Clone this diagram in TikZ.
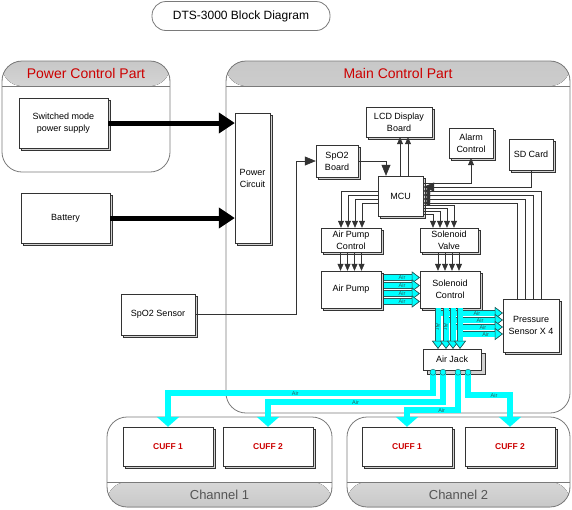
\documentclass[tikz,border=0pt]{standalone}
\usepackage{fontspec}
\setmainfont{Liberation Sans}
\usepackage{xcolor}
\usepackage{tikz}
\usetikzlibrary{arrows.meta, positioning, calc, shadows}
\definecolor{dtsred}{HTML}{CC0000}
\definecolor{dtsgray}{HTML}{555555}
\definecolor{dtsline}{HTML}{333333}
\definecolor{partline}{HTML}{7A7A7A}
\definecolor{bandgray}{HTML}{C8C8C8}
\definecolor{aircyan}{HTML}{00FFFF}
\definecolor{airedge}{HTML}{2A5A5A}
\tikzset{
  ttl/.style={rectangle, rounded corners=14pt, draw=partline, line width=0.8pt,
    minimum width=178pt, minimum height=29pt, font=\fontsize{12}{14}\selectfont},
  part/.style={rectangle, rounded corners=20pt, draw=partline, line width=0.8pt,
    path picture={
      \fill[top color=bandgray, bottom color=white]
        (path picture bounding box.north west) rectangle
        ([yshift=-25pt]path picture bounding box.north east);
      \draw[partline, line width=0.8pt]
        ([yshift=-25pt]path picture bounding box.north west) --
        ([yshift=-25pt]path picture bounding box.north east);}},
  chan/.style={rectangle, rounded corners=20pt, draw=partline, line width=0.8pt,
    path picture={
      \fill[top color=white, bottom color=bandgray]
        (path picture bounding box.south west) rectangle
        ([yshift=25pt]path picture bounding box.south east);
      \draw[partline, line width=0.8pt]
        ([yshift=25pt]path picture bounding box.south west) --
        ([yshift=25pt]path picture bounding box.south east);}},
  parthead/.style={text=dtsred, font=\fontsize{14}{16}\selectfont},
  chanfoot/.style={text=dtsgray, font=\fontsize{13}{15}\selectfont},
  blk/.style={rectangle, draw=dtsline, fill=white, align=center, inner sep=0pt,
    font=\fontsize{9}{12}\selectfont,
    copy shadow={shadow xshift=2.5pt, shadow yshift=-2.5pt, fill=gray!35, draw=dtsline}},
  cuff/.style={blk, text=dtsred, font=\fontsize{8.5}{12}\selectfont\bfseries},
  jack/.style={rectangle, draw=dtsline, fill=white, align=center, inner sep=0pt,
    font=\fontsize{9}{12}\selectfont,
    copy shadow={shadow xshift=4pt, shadow yshift=-4pt, fill=gray!35, draw=dtsline}},
  sig/.style={draw=dtsline, line width=0.6pt, -{Triangle[width=6pt,length=7pt]}},
  bigsig/.style={draw=dtsline, line width=0.6pt, -{Triangle[width=9pt,length=11pt]}},
  pwrarrow/.style={line width=5pt, -{Triangle[width=20pt,length=16pt]}},
  air/.style={draw=aircyan, line width=5pt,
    preaction={draw=airedge, line width=6.4pt},
    -{Triangle[width=12pt,length=8pt,color=airedge,fill=aircyan,line width=0.6pt]}},
  airline/.style={draw=aircyan, line width=6pt, -{Triangle[width=22pt,length=10pt]}},
  airlbl/.style={font=\fontsize{5.5}{5.5}\selectfont, text=airedge, inner sep=0pt},
}
\begin{document}
\begin{tikzpicture}[x=1pt, y=-1pt]
  \useasboundingbox (0,0) rectangle (572,509);
  \node[ttl] (title) at (241,16) {DTS-3000 Block Diagram};

  \node[part, minimum width=168pt, minimum height=111pt] (pwrpart) at (86,116.5) {};
  \node[parthead] (pwrhead) at ([yshift=-12.5pt]pwrpart.north) {Power Control Part};
  \node[part, minimum width=344pt, minimum height=352pt] (mainpart) at (398,237) {};
  \node[parthead] (mainhead) at ([yshift=-12.5pt]mainpart.north) {Main Control Part};
  \node[chan, minimum width=225pt, minimum height=90pt] (ch1) at (219.5,462) {};
  \node[chanfoot] (ch1foot) at ([yshift=12.5pt]ch1.south) {Channel 1};
  \node[chan, minimum width=223pt, minimum height=90pt] (ch2) at (458.5,462) {};
  \node[chanfoot] (ch2foot) at ([yshift=12.5pt]ch2.south) {Channel 2};

  \node[blk, minimum width=89pt, minimum height=50pt] (smps) at (63.5,123)
    {Switched mode\\power supply};
  \node[blk, minimum width=89pt, minimum height=50pt] (battery) at (65.5,218) {Battery};
  \node[blk, minimum width=35pt, minimum height=130pt] (pcirc) at (252.5,178) {Power\\Circuit};
  \node[blk, minimum width=74pt, minimum height=41pt] (spsensor) at (158,314.5) {SpO2 Sensor};
  \node[blk, minimum width=42pt, minimum height=32pt] (spboard) at (337,161) {SpO2\\Board};
  \node[blk, minimum width=66pt, minimum height=30pt] (lcd) at (399,122) {LCD Display\\Board};
  \node[blk, minimum width=44pt, minimum height=30pt] (alarm) at (471,143) {Alarm\\Control};
  \node[blk, minimum width=44pt, minimum height=31pt] (sdcard) at (531,154.5) {SD Card};
  \node[blk, minimum width=45pt, minimum height=40pt] (mcu) at (400.5,196) {MCU};
  \node[blk, minimum width=60pt, minimum height=24pt] (apctrl) at (351,240) {Air Pump\\Control};
  \node[blk, minimum width=58pt, minimum height=24pt] (svalve) at (449,240) {Solenoid\\Valve};
  \node[blk, minimum width=60pt, minimum height=37pt] (apump) at (351,289.5) {Air Pump};
  \node[blk, minimum width=60pt, minimum height=37pt] (sctrl) at (450,289.5) {Solenoid\\Control};
  \node[blk, minimum width=56pt, minimum height=53pt] (psens) at (531,325.5) {Pressure\\Sensor X 4};
  \node[jack, minimum width=58pt, minimum height=21pt] (ajack) at (452,359.5) {Air Jack};
  \node[cuff, minimum width=90pt, minimum height=39pt] (c1a) at (168,446.5) {CUFF 1};
  \node[cuff, minimum width=90pt, minimum height=39pt] (c1b) at (268,446.5) {CUFF 2};
  \node[cuff, minimum width=90pt, minimum height=39pt] (c2a) at (407,446.5) {CUFF 1};
  \node[cuff, minimum width=90pt, minimum height=39pt] (c2b) at (510,446.5) {CUFF 2};

  \draw[pwrarrow] (smps.east) -- (smps -| pcirc.west);
  \draw[pwrarrow] (battery.east) -- (battery -| pcirc.west);
  \draw[bigsig] (spsensor.east) -| ($(spboard.west)+(-20,0)$) -- (spboard.west);
  \draw[bigsig] (spboard.east) -| ($(mcu.north)+(-14.5,0)$);
  \draw[sig] ($(mcu.north)+(-0.5,0)$) -- ($(mcu.north |- lcd.south)+(-0.5,0)$);
  \draw[sig] ($(mcu.north)+(7.5,0)$) -- ($(mcu.north |- lcd.south)+(7.5,0)$);
  \draw[sig] ($(mcu.east)+(0,-13)$) -| (alarm.south);
  \draw[bigsig] (sdcard.south) |- ($(mcu.east)+(0,-9)$);
  \draw[sig] ($(psens.north)+(10,0)$) |- ($(mcu.east)+(0,-5)$);
  \draw[sig] ($(psens.north)+(2,0)$) |- ($(mcu.east)+(0,-1)$);
  \draw[sig] ($(psens.north)+(-6,0)$) |- ($(mcu.east)+(0,3)$);
  \draw[sig] ($(psens.north)+(-14,0)$) |- ($(mcu.east)+(0,7)$);

  \draw[sig] ($(mcu.west)+(0,-5)$) -| ($(apctrl.north)+(-10,0)$);
  \draw[sig] ($(mcu.west)+(0,-1)$) -| ($(apctrl.north)+(-3,0)$);
  \draw[sig] ($(mcu.west)+(0,3)$) -| ($(apctrl.north)+(4,0)$);
  \draw[sig] ($(mcu.west)+(0,7)$) -| ($(apctrl.north)+(11,0)$);
  \draw[sig] ($(mcu.east)+(0,9)$) -| ($(svalve.north)+(5,0)$);
  \draw[sig] ($(mcu.east)+(0,12)$) -| ($(svalve.north)+(-2,0)$);
  \draw[sig] ($(mcu.east)+(0,15)$) -| ($(svalve.north)+(-9,0)$);
  \draw[sig] ($(mcu.east)+(0,18)$) -| ($(svalve.north)+(-16,0)$);

  \draw[sig] ($(apctrl.south)+(-10.5,0)$) -- ($(apump.north)+(-10.5,0)$);
  \draw[sig] ($(apctrl.south)+(-3.5,0)$) -- ($(apump.north)+(-3.5,0)$);
  \draw[sig] ($(apctrl.south)+(3.5,0)$) -- ($(apump.north)+(3.5,0)$);
  \draw[sig] ($(apctrl.south)+(10.5,0)$) -- ($(apump.north)+(10.5,0)$);
  \draw[sig] ($(svalve.south)+(-11,0)$) -- ($(svalve.south |- sctrl.north)+(-11,0)$);
  \draw[sig] ($(svalve.south)+(-4,0)$) -- ($(svalve.south |- sctrl.north)+(-4,0)$);
  \draw[sig] ($(svalve.south)+(3,0)$) -- ($(svalve.south |- sctrl.north)+(3,0)$);
  \draw[sig] ($(svalve.south)+(10,0)$) -- ($(svalve.south |- sctrl.north)+(10,0)$);

  \draw[air] ($(apump.east)+(3,-12)$) -- ($(sctrl.west)+(0,-12)$) node[airlbl, midway] {Air};
  \draw[air] ($(apump.east)+(3,-4)$) -- ($(sctrl.west)+(0,-4)$) node[airlbl, midway] {Air};
  \draw[air] ($(apump.east)+(3,4)$) -- ($(sctrl.west)+(0,4)$) node[airlbl, midway] {Air};
  \draw[air] ($(apump.east)+(3,12)$) -- ($(sctrl.west)+(0,12)$) node[airlbl, midway] {Air};

  \draw[air] ($(sctrl.south)+(-12,0)$) -- ($(sctrl.south |- ajack.north)+(-12,0)$)
    node[airlbl, pos=0.45, rotate=-90] {Air};
  \draw[air] ($(sctrl.south)+(-4,0)$) -- ($(sctrl.south |- ajack.north)+(-4,0)$)
    node[airlbl, pos=0.45, rotate=-90] {Air};
  \draw[air] ($(sctrl.south)+(3,0)$) -- ($(sctrl.south |- ajack.north)+(3,0)$)
    node[airlbl, pos=0.45, rotate=-90] {Air};
  \draw[air] ($(sctrl.south)+(10,0)$) -- ($(sctrl.south |- ajack.north)+(10,0)$);
  \draw[air] ($(sctrl.south)+(-12,0)$) |- ($(psens.west)+(0,-12.5)$) node[airlbl, pos=0.8] {Air};
  \draw[air] ($(sctrl.south)+(-4,0)$) |- ($(psens.west)+(0,-5.5)$) node[airlbl, pos=0.8] {Air};
  \draw[air] ($(sctrl.south)+(3,0)$) |- ($(psens.west)+(0,1.5)$) node[airlbl, pos=0.8] {Air};
  \draw[air] ($(sctrl.south)+(10,0)$) |- ($(psens.west)+(0,8.5)$) node[airlbl, pos=0.8] {Air};

  \coordinate (port1) at ($(ajack.south)+(-19,2)$);
  \coordinate (port2) at ($(ajack.south)+(-9,2)$);
  \coordinate (port3) at ($(ajack.south)+(6,2)$);
  \coordinate (port4) at ($(ajack.south)+(16,2)$);
  \draw[airline] (port1) -- ++(0,21) -| (c1a.north) node[airlbl, pos=0.26] {Air};
  \draw[airline] (port2) -- ++(0,30) -| (c1b.north) node[airlbl, pos=0.25] {Air};
  \draw[airline] (port3) -- ++(0,38) -| (c2a.north) node[airlbl, pos=0.16] {Air};
  \draw[airline] (port4) -- ++(0,23) -| (c2b.north) node[airlbl, pos=0.31] {Air};
  \filldraw[fill=aircyan, draw=airedge, line width=0.4pt] (port1) circle (3pt);
  \filldraw[fill=aircyan, draw=airedge, line width=0.4pt] (port2) circle (3pt);
  \filldraw[fill=aircyan, draw=airedge, line width=0.4pt] (port3) circle (3pt);
  \filldraw[fill=aircyan, draw=airedge, line width=0.4pt] (port4) circle (3pt);
\end{tikzpicture}
\end{document}
